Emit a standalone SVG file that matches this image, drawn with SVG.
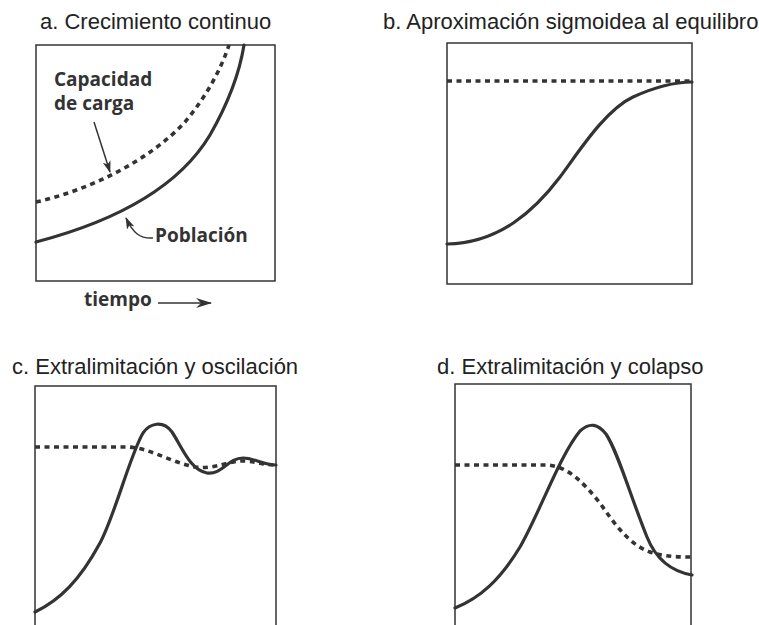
<svg xmlns="http://www.w3.org/2000/svg" width="759" height="625" viewBox="0 0 759 625">
<defs>
<style>
.title{font-family:"Liberation Sans",Arial,sans-serif;font-size:22px;fill:#222}
.lbl{font-family:"Open Sans","Liberation Sans",sans-serif;font-weight:bold;font-size:19px;fill:#333}
.box{fill:none;stroke:#333;stroke-width:1.5}
.pop{fill:none;stroke:#333;stroke-width:3.2;stroke-linecap:round}
.cap{fill:none;stroke:#333;stroke-width:3.6;stroke-dasharray:5 4.5}
.arr{fill:none;stroke:#333;stroke-width:1.5}
</style>
<marker id="ah" viewBox="0 0 12 8" refX="11" refY="4" markerWidth="12" markerHeight="8" markerUnits="userSpaceOnUse" orient="auto">
<path d="M0,0 L12,4 L0,8 L3,4 Z" fill="#333"/>
</marker>
<marker id="ah2" viewBox="0 0 16 10" refX="15" refY="5" markerWidth="16" markerHeight="10" markerUnits="userSpaceOnUse" orient="auto">
<path d="M0,0 L16,5 L0,10 L5,5 Z" fill="#333"/>
</marker>
</defs>
<rect width="759" height="625" fill="#fff"/>

<g id="panel-a">
<text class="title" x="40" y="29">a. Crecimiento continuo</text>
<rect class="box" x="36" y="45" width="239" height="236"/>
<path class="cap" d="M36,202 C90,190 150,160 185,122 C205,98 220,72 229,45"/>
<path class="pop" d="M36,242 C120,220 180,185 210,135 C230,100 240,70 244,45"/>
<text class="lbl" x="54" y="86">Capacidad</text>
<text class="lbl" x="54" y="110">de carga</text>
<text class="lbl" x="155" y="242">Población</text>
<text class="lbl" x="84" y="306">tiempo</text>
</g>

<g id="panel-b">
<text class="title" x="383" y="29">b. Aproximación sigmoidea al equilibro</text>
<rect class="box" x="447" y="43" width="245" height="241"/>
<path class="cap" d="M447,81 L692,81"/>
<path class="pop" d="M447,244 C500,243 535,210 560,177 C578,153 605,110 633,97 C655,87 675,82 692,82"/>
</g>

<g id="panel-c">
<text class="title" x="12" y="374">c. Extralimitación y oscilación</text>
<path class="box" d="M35,630 L35,386 L276,386 L276,630"/>
<path class="cap" d="M35,447 L128,447 C150,448 170,462 195,467 C215,470 230,460 245,461 C258,462 265,465 276,465"/>
<path class="pop" d="M35,612 C60,600 80,580 100,543 C115,515 130,455 143,433 C150,423 163,420 172,432 C182,447 190,470 207,473 C222,475 228,458 243,458 C255,458 262,465 276,465"/>
</g>

<g id="panel-d">
<text class="title" x="437" y="374">d. Extralimitación y colapso</text>
<path class="box" d="M455,630 L455,384 L691,384 L691,630"/>
<path class="cap" d="M455,465 L548,465 C570,467 585,485 600,503 C615,525 630,545 650,552 C665,557 680,557 692,557"/>
<path class="pop" d="M455,608 C480,598 500,580 520,547 C540,512 560,455 580,431 C590,422 598,424 606,434 C618,452 630,495 647,537 C657,562 675,572 692,575"/>
</g>

<g id="connectors">
<path class="arr" d="M94,122 L110,172" marker-end="url(#ah)"/>
<path class="arr" d="M153,238 C140,239 133,233 126,218" marker-end="url(#ah)"/>
<path class="arr" d="M158,303 L211,303" marker-end="url(#ah2)"/>
</g>
</svg>
